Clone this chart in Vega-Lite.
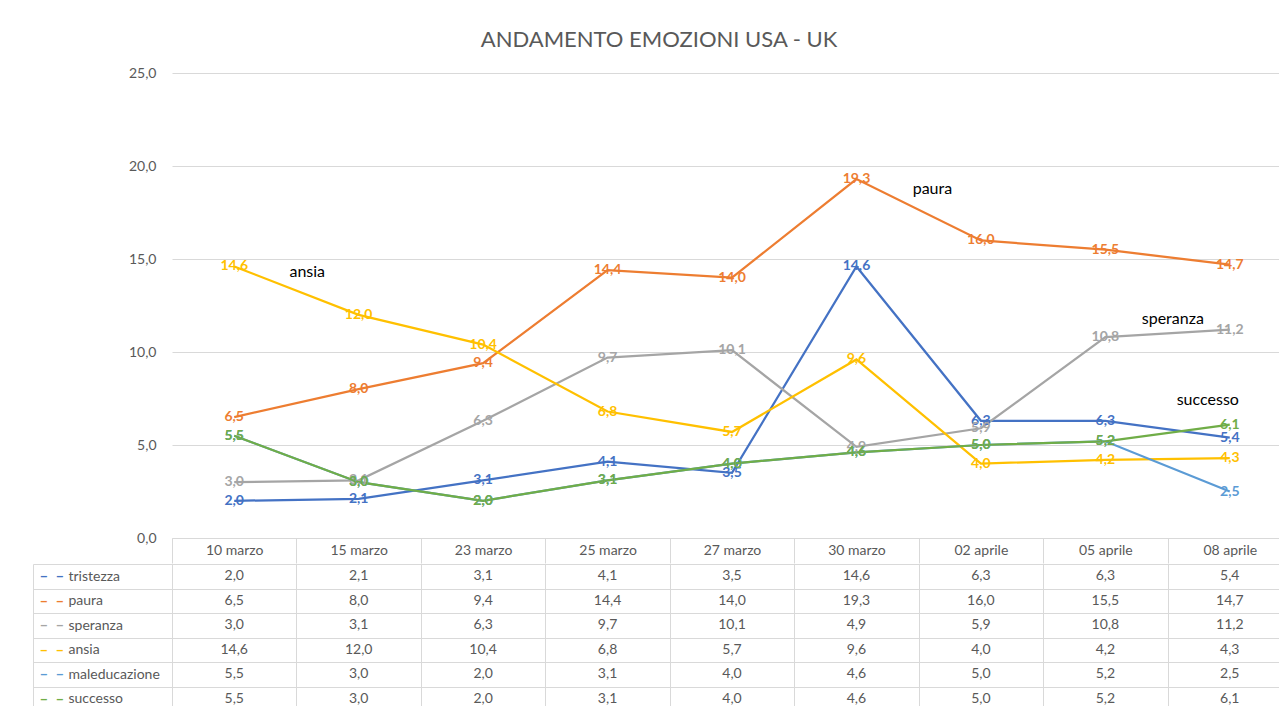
{
  "$schema": "https://vega.github.io/schema/vega-lite/v6.json",
  "padding": {"left": 32, "top": 29, "right": 0, "bottom": 0},
  "background": "#ffffff",
  "config": {
    "locale": {"number": {"decimal": ",", "thousands": ".", "grouping": [3], "currency": ["€", ""]}},
    "view": {"stroke": null},
    "font": "Lato"
  },
  "datasets": {
    "emo": [
      {"date": "10 marzo", "series": "tristezza", "value": 2.0},
      {"date": "15 marzo", "series": "tristezza", "value": 2.1},
      {"date": "23 marzo", "series": "tristezza", "value": 3.1},
      {"date": "25 marzo", "series": "tristezza", "value": 4.1},
      {"date": "27 marzo", "series": "tristezza", "value": 3.5},
      {"date": "30 marzo", "series": "tristezza", "value": 14.6},
      {"date": "02 aprile", "series": "tristezza", "value": 6.3},
      {"date": "05 aprile", "series": "tristezza", "value": 6.3},
      {"date": "08 aprile", "series": "tristezza", "value": 5.4},
      {"date": "10 marzo", "series": "paura", "value": 6.5},
      {"date": "15 marzo", "series": "paura", "value": 8.0},
      {"date": "23 marzo", "series": "paura", "value": 9.4},
      {"date": "25 marzo", "series": "paura", "value": 14.4},
      {"date": "27 marzo", "series": "paura", "value": 14.0},
      {"date": "30 marzo", "series": "paura", "value": 19.3},
      {"date": "02 aprile", "series": "paura", "value": 16.0},
      {"date": "05 aprile", "series": "paura", "value": 15.5},
      {"date": "08 aprile", "series": "paura", "value": 14.7},
      {"date": "10 marzo", "series": "speranza", "value": 3.0},
      {"date": "15 marzo", "series": "speranza", "value": 3.1},
      {"date": "23 marzo", "series": "speranza", "value": 6.3},
      {"date": "25 marzo", "series": "speranza", "value": 9.7},
      {"date": "27 marzo", "series": "speranza", "value": 10.1},
      {"date": "30 marzo", "series": "speranza", "value": 4.9},
      {"date": "02 aprile", "series": "speranza", "value": 5.9},
      {"date": "05 aprile", "series": "speranza", "value": 10.8},
      {"date": "08 aprile", "series": "speranza", "value": 11.2},
      {"date": "10 marzo", "series": "ansia", "value": 14.6},
      {"date": "15 marzo", "series": "ansia", "value": 12.0},
      {"date": "23 marzo", "series": "ansia", "value": 10.4},
      {"date": "25 marzo", "series": "ansia", "value": 6.8},
      {"date": "27 marzo", "series": "ansia", "value": 5.7},
      {"date": "30 marzo", "series": "ansia", "value": 9.6},
      {"date": "02 aprile", "series": "ansia", "value": 4.0},
      {"date": "05 aprile", "series": "ansia", "value": 4.2},
      {"date": "08 aprile", "series": "ansia", "value": 4.3},
      {"date": "10 marzo", "series": "maleducazione", "value": 5.5},
      {"date": "15 marzo", "series": "maleducazione", "value": 3.0},
      {"date": "23 marzo", "series": "maleducazione", "value": 2.0},
      {"date": "25 marzo", "series": "maleducazione", "value": 3.1},
      {"date": "27 marzo", "series": "maleducazione", "value": 4.0},
      {"date": "30 marzo", "series": "maleducazione", "value": 4.6},
      {"date": "02 aprile", "series": "maleducazione", "value": 5.0},
      {"date": "05 aprile", "series": "maleducazione", "value": 5.2},
      {"date": "08 aprile", "series": "maleducazione", "value": 2.5},
      {"date": "10 marzo", "series": "successo", "value": 5.5},
      {"date": "15 marzo", "series": "successo", "value": 3.0},
      {"date": "23 marzo", "series": "successo", "value": 2.0},
      {"date": "25 marzo", "series": "successo", "value": 3.1},
      {"date": "27 marzo", "series": "successo", "value": 4.0},
      {"date": "30 marzo", "series": "successo", "value": 4.6},
      {"date": "02 aprile", "series": "successo", "value": 5.0},
      {"date": "05 aprile", "series": "successo", "value": 5.2},
      {"date": "08 aprile", "series": "successo", "value": 6.1}
    ]
  },
  "data": {"name": "emo"},
  "spacing": -9,
  "vconcat": [
    {
      "width": 1120,
      "height": 465,
      "title": {
        "text": "ANDAMENTO EMOZIONI USA - UK",
        "fontSize": 22,
        "font": "Lato",
        "fontWeight": "normal",
        "color": "#595959",
        "anchor": "middle",
        "dx": -73,
        "baseline": "alphabetic",
        "offset": -3
      },
      "layer": [
        {
          "mark": {"type": "line", "strokeWidth": 2.25},
          "encoding": {
            "x": {
              "field": "date", "type": "ordinal",
              "sort": ["10 marzo", "15 marzo", "23 marzo", "25 marzo", "27 marzo", "30 marzo", "02 aprile", "05 aprile", "08 aprile"],
              "scale": {"type": "band", "paddingInner": 0, "paddingOuter": 0},
              "axis": {
                "title": null, "orient": "bottom", "grid": false,
                "domain": true, "domainColor": "#D9D9D9",
                "ticks": true, "tickBand": "extent", "tickSize": 25, "tickColor": "#D9D9D9",
                "labelAngle": 0, "labelFontSize": 14, "labelColor": "#595959", "labelFont": "Lato",
                "labelBaseline": "middle", "labelPadding": -13
              }
            },
            "y": {
              "field": "value", "type": "quantitative",
              "scale": {"domain": [0, 25], "nice": false},
              "axis": {
                "title": null, "values": [0, 5, 10, 15, 20, 25], "format": ".1f",
                "grid": true, "gridColor": "#D9D9D9", "domain": false, "ticks": false,
                "labelPadding": 16, "labelFontSize": 14, "labelColor": "#595959", "labelFont": "Lato",
                "minExtent": 139
              }
            },
            "color": {
              "field": "series", "type": "nominal",
              "scale": {
                "domain": ["tristezza", "paura", "speranza", "ansia", "maleducazione", "successo"],
                "range": ["#4472C4", "#ED7D31", "#A5A5A5", "#FFC000", "#5B9BD5", "#70AD47"]
              },
              "legend": null
            }
          }
        },
        {
          "mark": {"type": "text", "fontSize": 14, "fontWeight": "bold", "font": "Lato", "align": "center", "baseline": "middle"},
          "encoding": {
            "x": {"field": "date", "type": "ordinal", "sort": ["10 marzo", "15 marzo", "23 marzo", "25 marzo", "27 marzo", "30 marzo", "02 aprile", "05 aprile", "08 aprile"]},
            "y": {"field": "value", "type": "quantitative"},
            "text": {"field": "value", "type": "quantitative", "format": ".1f"},
            "color": {"field": "series", "type": "nominal", "legend": null}
          }
        },
        {
          "data": {"values": [{"date": "10 marzo", "value": 14.3, "label": "ansia"}]},
          "mark": {"type": "text", "fontSize": 16, "font": "Lato", "color": "#000000", "align": "center", "baseline": "middle", "dx": 73},
          "encoding": {
            "x": {"field": "date", "type": "ordinal", "sort": ["10 marzo", "15 marzo", "23 marzo", "25 marzo", "27 marzo", "30 marzo", "02 aprile", "05 aprile", "08 aprile"]},
            "y": {"field": "value", "type": "quantitative"},
            "text": {"field": "label"}
          }
        },
        {
          "data": {"values": [{"date": "30 marzo", "value": 18.75, "label": "paura"}]},
          "mark": {"type": "text", "fontSize": 16, "font": "Lato", "color": "#000000", "align": "center", "baseline": "middle", "dx": 76},
          "encoding": {
            "x": {"field": "date", "type": "ordinal", "sort": ["10 marzo", "15 marzo", "23 marzo", "25 marzo", "27 marzo", "30 marzo", "02 aprile", "05 aprile", "08 aprile"]},
            "y": {"field": "value", "type": "quantitative"},
            "text": {"field": "label"}
          }
        },
        {
          "data": {"values": [{"date": "08 aprile", "value": 11.8, "label": "speranza"}]},
          "mark": {"type": "text", "fontSize": 16, "font": "Lato", "color": "#000000", "align": "center", "baseline": "middle", "dx": -57},
          "encoding": {
            "x": {"field": "date", "type": "ordinal", "sort": ["10 marzo", "15 marzo", "23 marzo", "25 marzo", "27 marzo", "30 marzo", "02 aprile", "05 aprile", "08 aprile"]},
            "y": {"field": "value", "type": "quantitative"},
            "text": {"field": "label"}
          }
        },
        {
          "data": {"values": [{"date": "08 aprile", "value": 7.4, "label": "successo"}]},
          "mark": {"type": "text", "fontSize": 16, "font": "Lato", "color": "#000000", "align": "center", "baseline": "middle", "dx": -22},
          "encoding": {
            "x": {"field": "date", "type": "ordinal", "sort": ["10 marzo", "15 marzo", "23 marzo", "25 marzo", "27 marzo", "30 marzo", "02 aprile", "05 aprile", "08 aprile"]},
            "y": {"field": "value", "type": "quantitative"},
            "text": {"field": "label"}
          }
        }
      ]
    },
    {
      "width": 1120,
      "height": 147,
      "layer": [
        {
          "mark": {"type": "text", "fontSize": 14, "color": "#595959", "font": "Lato", "align": "center", "baseline": "middle"},
          "encoding": {
            "x": {
              "field": "date", "type": "ordinal",
              "sort": ["10 marzo", "15 marzo", "23 marzo", "25 marzo", "27 marzo", "30 marzo", "02 aprile", "05 aprile", "08 aprile"],
              "scale": {"type": "band", "paddingInner": 0, "paddingOuter": 0},
              "axis": {"orient": "top", "title": null, "labels": false, "ticks": false, "domain": false, "grid": true, "gridColor": "#D9D9D9", "tickBand": "extent"}
            },
            "y": {
              "field": "series", "type": "nominal",
              "sort": ["tristezza", "paura", "speranza", "ansia", "maleducazione", "successo"],
              "scale": {"type": "band", "paddingInner": 0, "paddingOuter": 0},
              "axis": {
                "title": null, "grid": true, "gridColor": "#D9D9D9", "tickBand": "extent",
                "ticks": true, "tickSize": 139, "tickColor": "#D9D9D9",
                "domain": true, "domainColor": "#D9D9D9",
                "labelAlign": "left", "labelBaseline": "middle", "labelPadding": -35,
                "labelFontSize": 14, "labelColor": "#595959", "labelFont": "Lato"
              }
            },
            "text": {"field": "value", "type": "quantitative", "format": ".1f"}
          }
        },
        {
          "mark": {"type": "text", "text": ""},
          "encoding": {
            "y": {
              "field": "series", "type": "nominal",
              "sort": ["tristezza", "paura", "speranza", "ansia", "maleducazione", "successo"],
              "axis": {
                "orient": "left", "offset": 139, "title": null, "grid": false,
                "ticks": false, "domain": true, "domainColor": "#D9D9D9",
                "labelExpr": "'–\u00a0\u00a0–'", "labelAlign": "left", "labelBaseline": "middle", "labelPadding": -6,
                "labelFontSize": 15, "labelFont": "Lato", "labelFontWeight": "bold",
                "labelColor": {"expr": "datum.value === 'tristezza' ? '#4472C4' : datum.value === 'paura' ? '#ED7D31' : datum.value === 'speranza' ? '#A5A5A5' : datum.value === 'ansia' ? '#FFC000' : datum.value === 'maleducazione' ? '#5B9BD5' : '#70AD47'"}
              }
            }
          }
        }
      ],
      "resolve": {"axis": {"y": "independent"}}
    }
  ]
}
